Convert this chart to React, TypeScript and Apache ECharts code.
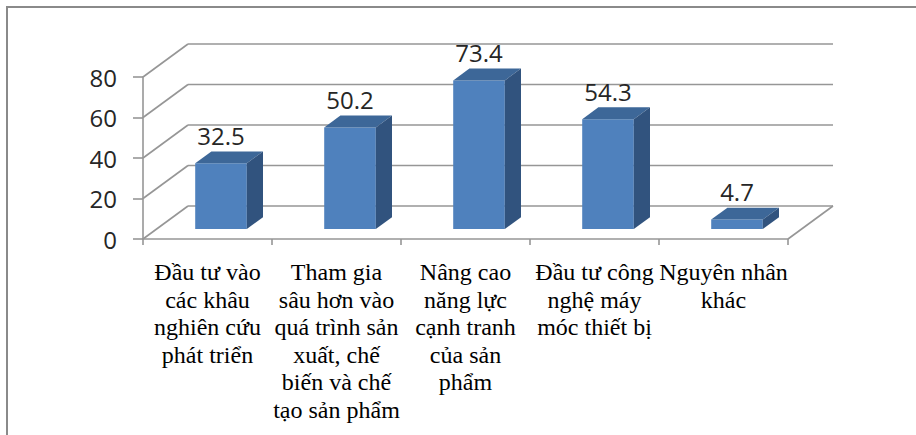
import React, { useEffect, useRef } from "react";
import * as echarts from "echarts";

// Category names, broken into lines as they are printed under the axis
const categories = [
  "Đầu tư vào\ncác khâu\nnghiên cứu\nphát triển",
  "Tham gia\nsâu hơn vào\nquá trình sản\nxuất, chế\nbiến và chế\ntạo sản phẩm",
  "Nâng cao\nnăng lực\ncạnh tranh\ncủa sản\nphẩm",
  "Đầu tư công\nnghệ máy\nmóc thiết bị",
  "Nguyên nhân\nkhác",
];
const values = [32.5, 50.2, 73.4, 54.3, 4.7];
const valueTicks = [0, 20, 40, 60, 80];

// Perspective offset between the front plane and the back wall
const DEPTH_X = 45;
const DEPTH_Y = 33;
// Where each box sits inside that depth, and its half width as a share of the band
const BAR_FRONT = 0.3;
const BAR_DEPTH = 0.36;
const BAR_HALF = 0.2;

// Category name layout: first line centre below the axis, and line pitch
const NAME_OFFSET = 33;
const NAME_PITCH = 27.5;

const GRID_COLOR = "#969696";
const FRONT = "#4F81BD";
const TOP = "#3D6798";
const SIDE = "#31537E";

export default function App() {
  const ref = useRef<HTMLDivElement>(null);

  useEffect(() => {
    if (!ref.current) return;
    const chart = echarts.init(ref.current, null, { renderer: "svg" });
    const lineStyle = { stroke: GRID_COLOR, lineWidth: 1.6 };

    chart.setOption({
      animation: false,
      graphic: [
        {
          type: "rect",
          silent: true,
          shape: { x: 7, y: 7, width: 960, height: 480 },
          style: { fill: "none", stroke: "#8a8a8a", lineWidth: 2 },
        },
      ],
      grid: { left: 143, top: 77, width: 645, height: 162 },
      xAxis: {
        type: "category",
        data: categories,
        axisLine: { show: true, lineStyle: { color: GRID_COLOR, width: 1.6 } },
        axisTick: { show: true, length: 6, lineStyle: { color: GRID_COLOR, width: 1.6 } },
        // names are set line by line by the label series below
        axisLabel: { show: false },
        splitLine: { show: false },
      },
      yAxis: {
        type: "value",
        min: 0,
        max: 80,
        interval: 20,
        axisLine: { show: true, lineStyle: { color: GRID_COLOR, width: 1.6 } },
        axisTick: { show: true, length: 10, lineStyle: { color: GRID_COLOR, width: 1.6 } },
        axisLabel: {
          margin: 26,
          fontFamily: "Open Sans",
          fontSize: 24,
          color: "#262626",
        },
        splitLine: { show: false },
      },
      series: [
        {
          // back wall gridlines, the side diagonals and the floor edge
          type: "custom",
          silent: true,
          z: 1,
          encode: { x: 0, y: 1 },
          data: valueTicks.map((v) => [0, v]),
          renderItem: (params: any, api: any) => {
            const cs = params.coordSys;
            const v = api.value(1);
            const y = api.coord([0, v])[1];
            const x0 = cs.x;
            const x1 = cs.x + cs.width;
            const children: any[] = [
              { type: "line", shape: { x1: x0, y1: y, x2: x0 + DEPTH_X, y2: y - DEPTH_Y }, style: lineStyle },
              { type: "line", shape: { x1: x0 + DEPTH_X, y1: y - DEPTH_Y, x2: x1 + DEPTH_X, y2: y - DEPTH_Y }, style: lineStyle },
            ];
            if (v === valueTicks[0]) {
              children.push({ type: "line", shape: { x1: x1, y1: y, x2: x1 + DEPTH_X, y2: y - DEPTH_Y }, style: lineStyle });
            }
            return { type: "group", children };
          },
        },
        {
          // category names under the front edge of the floor, one text per line
          type: "custom",
          silent: true,
          z: 2,
          encode: { x: 0, y: 1 },
          data: categories.map((_, i) => [i, 0]),
          renderItem: (params: any, api: any) => {
            const i = api.value(0);
            const [cx, y0] = api.coord([i, 0]);
            const lines = categories[i].split("\n");
            return {
              type: "group",
              children: lines.map((line, k) => ({
                type: "text",
                x: cx,
                y: y0 + NAME_OFFSET + k * NAME_PITCH,
                style: {
                  text: line,
                  fill: "#000",
                  fontFamily: "Liberation Serif",
                  fontSize: 24,
                  align: "center",
                  verticalAlign: "middle",
                },
              })),
            };
          },
        },
        {
          // 3D boxes: front face, top face, right side and the value above
          type: "custom",
          z: 3,
          encode: { x: 0, y: 1 },
          data: values.map((v, i) => [i, v]),
          renderItem: (params: any, api: any) => {
            const i = api.value(0);
            const v = api.value(1);
            const [cx, yTop0] = api.coord([i, v]);
            const yBase0 = api.coord([i, 0])[1];
            const band = api.size([1, 0])[0];
            const half = band * BAR_HALF;
            const ox = DEPTH_X * BAR_FRONT;
            const oy = DEPTH_Y * BAR_FRONT;
            const dx = DEPTH_X * BAR_DEPTH;
            const dy = DEPTH_Y * BAR_DEPTH;
            const xl = cx - half + ox;
            const xr = cx + half + ox;
            const yt = yTop0 - oy;
            const yb = yBase0 - oy;
            return {
              type: "group",
              children: [
                {
                  type: "polygon",
                  shape: { points: [[xl, yb], [xr, yb], [xr, yt], [xl, yt]] },
                  style: { fill: FRONT },
                },
                {
                  type: "polygon",
                  shape: { points: [[xl, yt], [xr, yt], [xr + dx, yt - dy], [xl + dx, yt - dy]] },
                  style: { fill: TOP },
                },
                {
                  type: "polygon",
                  shape: { points: [[xr, yt], [xr + dx, yt - dy], [xr + dx, yb - dy], [xr, yb]] },
                  style: { fill: SIDE },
                },
                {
                  type: "text",
                  x: (xl + xr) / 2,
                  y: yt - 28,
                  style: {
                    text: String(v),
                    fill: "#262626",
                    fontFamily: "Open Sans",
                    fontSize: 24,
                    align: "center",
                    verticalAlign: "middle",
                  },
                },
              ],
            };
          },
        },
      ],
    });

    return () => chart.dispose();
  }, []);

  return (
    <div
      ref={ref}
      style={{ position: "absolute", left: 0, top: 0, width: 916, height: 435 }}
    />
  );
}
